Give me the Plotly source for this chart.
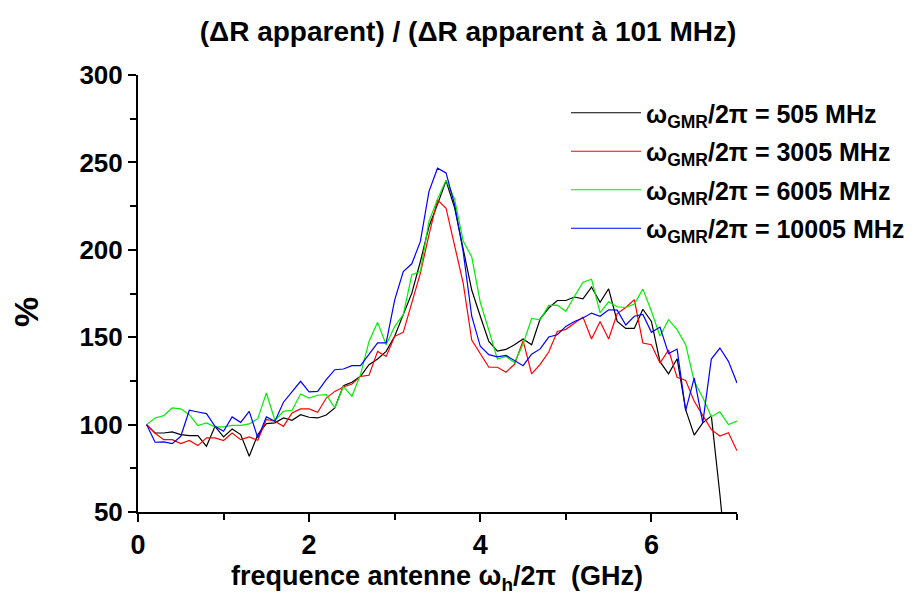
import plotly.graph_objects as go

# frequence antenne (GHz)
freq = [0.1, 0.2, 0.3, 0.4, 0.5, 0.6, 0.7, 0.8, 0.9, 1.0,
        1.1, 1.2, 1.3, 1.4, 1.5, 1.6, 1.7, 1.8, 1.9, 2.0,
        2.1, 2.2, 2.3, 2.4, 2.5, 2.6, 2.7, 2.8, 2.9, 3.0,
        3.1, 3.2, 3.3, 3.4, 3.5, 3.6, 3.7, 3.8, 3.9, 4.0,
        4.1, 4.2, 4.3, 4.4, 4.5, 4.6, 4.7, 4.8, 4.9, 5.0,
        5.1, 5.2, 5.3, 5.4, 5.5, 5.6, 5.7, 5.8, 5.9, 6.0,
        6.1, 6.2, 6.3, 6.4, 6.5, 6.6, 6.7, 6.8, 6.9, 7.0]

gmr_505 = [100, 95.2, 95.2, 95.8, 94.3, 93.7, 93.7, 87.6, 99.0, 93.0,
           97.5, 94.3, 81.9, 94.3, 100.6, 101.0, 103.8, 102.5, 105.7, 104.2,
           103.8, 105.5, 109.5, 122.3, 124.2, 127.6, 134.3, 137.5, 141.9, 150.5,
           162.9, 175.2, 193.3, 213.3, 226.0, 239.5, 224.0, 200.0, 177.0, 162.0,
           147.6, 142.0, 143.0, 145.7, 149.0, 145.7, 160.5, 166.7, 171.0, 171.0,
           173.0, 172.0, 178.7, 170.0, 177.7, 159.0, 155.0, 155.0, 166.0, 159.0,
           136.0, 129.0, 137.7, 108.6, 94.0, 101.0, 105.0, 60.0, 10.0, None]

gmr_3005 = [100, 95.0, 91.4, 91.4, 89.1, 90.9, 88.0, 92.4, 92.4, 90.9,
            95.2, 91.4, 93.0, 91.0, 102.9, 101.9, 99.0, 106.7, 109.0, 109.0,
            107.0, 115.2, 119.0, 121.5, 123.2, 127.6, 128.2, 141.9, 139.0, 150.5,
            152.8, 169.5, 186.7, 208.5, 228.6, 223.8, 202.0, 181.0, 148.4, 140.3,
            132.8, 132.8, 130.0, 134.5, 148.0, 129.0, 134.5, 141.5, 153.3, 154.5,
            158.0, 161.5, 149.0, 159.0, 149.0, 163.5, 167.0, 171.5, 146.7, 145.7,
            135.2, 142.7, 127.0, 125.3, 113.3, 105.1, 97.1, 93.5, 95.4, 85.0]

gmr_6005 = [100, 103.8, 105.1, 109.5, 109.0, 105.7, 99.4, 101.0, 98.7, 98.7,
            99.6, 99.6, 100.4, 103.4, 118.1, 102.5, 107.6, 108.2, 117.5, 115.2,
            116.8, 117.1, 109.5, 121.9, 116.2, 128.6, 147.6, 158.5, 145.7, 156.2,
            162.9, 185.7, 187.6, 216.2, 229.0, 239.8, 229.0, 205.0, 196.0, 170.0,
            154.0, 137.5, 139.0, 135.5, 146.0, 160.8, 160.0, 168.2, 168.4, 164.8,
            173.3, 181.4, 183.2, 164.0, 170.2, 167.4, 167.0, 169.0, 177.5, 164.8,
            150.7, 160.0, 154.3, 145.7, 124.8, 115.5, 104.5, 107.3, 100.0, 102.0]

gmr_10005 = [100, 89.9, 90.1, 89.1, 93.3, 108.2, 107.2, 106.3, 99.0, 96.2,
             104.4, 101.3, 107.6, 92.4, 104.4, 101.9, 112.8, 118.5, 124.8, 118.7,
             119.0, 125.7, 131.4, 131.8, 133.7, 133.7, 140.0, 146.7, 146.7, 171.4,
             187.6, 192.0, 204.8, 233.3, 246.7, 244.0, 225.7, 199.0, 162.0, 144.8,
             140.0, 138.7, 139.6, 136.6, 133.7, 140.3, 143.3, 150.1, 151.4, 156.2,
             159.0, 161.0, 163.8, 162.0, 165.7, 165.5, 157.0, 162.0, 163.0, 152.8,
             155.8, 140.6, 143.2, 108.0, 126.7, 101.0, 137.5, 143.8, 136.2, 123.8]

series = [
    ("\u03c9<sub>GMR</sub>/2\u03c0 = 505 MHz", gmr_505, "#000000"),
    ("\u03c9<sub>GMR</sub>/2\u03c0 = 3005 MHz", gmr_3005, "#ff0000"),
    ("\u03c9<sub>GMR</sub>/2\u03c0 = 6005 MHz", gmr_6005, "#00ee00"),
    ("\u03c9<sub>GMR</sub>/2\u03c0 = 10005 MHz", gmr_10005, "#0000ff"),
]

FONT = "Liberation Sans, Arial, Helvetica, sans-serif"

# plot area in pixels
L, R, T, B = 138, 737, 75, 512
W, H = 923, 599


def px(x):
    return (x - L) / (R - L)


def py(y):
    return (B - y) / (B - T)


fig = go.Figure()
for i, (name, vals, col) in enumerate(series):
    fig.add_trace(go.Scatter(
        x=freq, y=vals, name=name, mode="lines",
        legendgroup=f"g{i}",
        line=dict(color=col, width=1.2),
    ))

fig.update_layout(
    width=W, height=H,
    margin=dict(l=L, r=W - R, t=T, b=H - B),
    paper_bgcolor="white",
    plot_bgcolor="white",
    font=dict(family=FONT, color="black", weight="bold"),
    title=dict(
        text="(\u0394R apparent) / (\u0394R apparent \u00e0 101 MHz)",
        x=468 / W, xanchor="center", xref="container",
        y=1 - 31 / H, yanchor="middle", yref="container",
        font=dict(size=28, family=FONT, weight="bold"),
    ),
    showlegend=True,
    legend=dict(
        x=px(566), y=py(90), xanchor="left", yanchor="top",
        bgcolor="rgba(0,0,0,0)",
        font=dict(size=25, family=FONT, weight="bold"),
        itemwidth=70,
        tracegroupgap=3,
    ),
    annotations=[
        dict(text="frequence antenne \u03c9<sub>h</sub>/2\u03c0  (GHz)",
             x=px(437), y=py(578), xref="paper", yref="paper",
             xanchor="center", yanchor="middle", showarrow=False,
             font=dict(size=27, family=FONT, weight="bold")),
        dict(text="%", textangle=-90,
             x=px(26), y=py(312), xref="paper", yref="paper",
             xanchor="center", yanchor="middle", showarrow=False,
             font=dict(size=34, family=FONT, weight="bold")),
    ],
)

fig.update_xaxes(
    range=[0, 7],
    tickvals=[0, 2, 4, 6],
    ticks="outside", ticklen=8, tickwidth=2, tickcolor="black",
    minor=dict(tickvals=[1, 3, 5, 7], ticks="outside", ticklen=6,
               tickwidth=2, tickcolor="black"),
    showline=True, linecolor="black", linewidth=2,
    showgrid=False, zeroline=False,
    tickfont=dict(size=27, family=FONT, weight="bold"),
)

fig.update_yaxes(
    range=[50, 300],
    tickvals=[50, 100, 150, 200, 250, 300],
    ticks="outside", ticklen=8, tickwidth=2, tickcolor="black",
    minor=dict(tickvals=[75, 125, 175, 225, 275], ticks="outside", ticklen=6,
               tickwidth=2, tickcolor="black"),
    showline=True, linecolor="black", linewidth=2,
    showgrid=False, zeroline=False,
    tickfont=dict(size=26, family=FONT, weight="bold"),
)

fig.write_html("out.html", config={"displayModeBar": False},
               post_script="document.body.style.margin='0';")
